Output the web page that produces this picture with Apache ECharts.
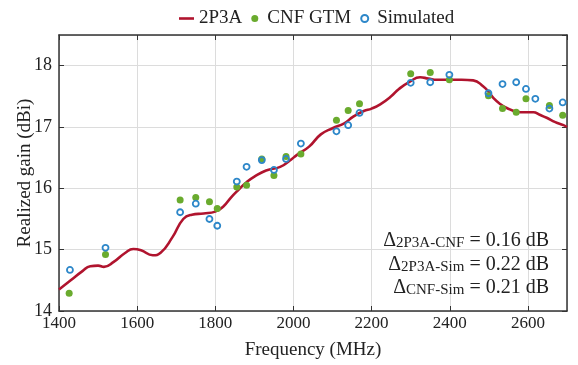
<!DOCTYPE html>
<html>
<head>
<meta charset="utf-8">
<script src="https://cdn.jsdelivr.net/npm/echarts@6/dist/echarts.min.js"></script>
<style>
html,body{margin:0;padding:0;background:#fff;}
#c{width:578px;height:365px;}
</style>
</head>
<body>
<div id="c"></div>
<script>
// ---- data ----
var lineFreq = [1400,1430,1460,1480,1500,1515,1540,1570,1590,1610,1640,1660,1690,1718,1740,1770,1800,1820,1840,1860,1880,1900,1930,1966,1990,2010,2040,2070,2100,2130,2153,2180,2200,2222,2250,2270,2298,2324,2345,2367,2400,2430,2460,2486,2500,2512,2530,2546,2571,2590,2614,2630,2648,2670,2691,2700];
var lineGain = [14.35,14.50,14.65,14.73,14.74,14.72,14.80,14.95,15.01,14.99,14.91,14.95,15.20,15.50,15.57,15.59,15.62,15.70,15.85,15.98,16.10,16.19,16.29,16.35,16.45,16.55,16.68,16.88,16.98,17.06,17.17,17.26,17.30,17.37,17.50,17.62,17.74,17.81,17.79,17.77,17.77,17.77,17.76,17.66,17.57,17.47,17.37,17.31,17.25,17.24,17.24,17.20,17.15,17.08,17.03,17.00];

var cnfFreq = [1426,1519,1710,1750,1785,1805,1855,1880,1919,1950,1981,2019,2110,2140,2169,2300,2350,2399,2499,2535,2570,2595,2655,2689];
var cnfGain = [14.29,14.92,15.81,15.85,15.78,15.67,16.02,16.05,16.48,16.21,16.52,16.56,17.11,17.27,17.38,17.87,17.89,17.77,17.51,17.30,17.24,17.46,17.35,17.19];

var simFreq = [1428,1519,1710,1750,1785,1805,1855,1880,1919,1950,1981,2019,2110,2140,2169,2300,2350,2399,2499,2535,2570,2595,2619,2655,2689];
var simGain = [14.67,15.03,15.61,15.75,15.50,15.39,16.11,16.35,16.46,16.30,16.48,16.73,16.93,17.03,17.23,17.72,17.73,17.85,17.55,17.70,17.73,17.62,17.46,17.30,17.40];

var seriesNames = ['2P3A','CNF GTM','Simulated'];
var xTicks = {min:1400, max:2700, interval:200};
var yTicks = {min:14, max:18.5, interval:1};
var annoLines = [
  {sub:'2P3A-CNF', val:'0.16 dB'},
  {sub:'2P3A-Sim', val:'0.22 dB'},
  {sub:'CNF-Sim', val:'0.21 dB'}
];

function pairs(a,b){var r=[];for(var i=0;i<a.length;i++)r.push([a[i],b[i]]);return r;}

var FONT = '"Liberation Serif","Times New Roman",serif';
var axisCol = '#333';
var chart = echarts.init(document.getElementById('c'), null, {renderer:'canvas'});

var gridL=59, gridT=35, gridR=11, gridB=51;

var graphics = annoLines.map(function(l,i){
  return {
    type:'text', right: 29, top: 231 + i*23.5, z:100,
    style:{
      text:'{d|Δ}{s|'+l.sub+'}{d| = '+l.val+'}',
      font:'19px '+FONT, fill:'#222', align:'right',
      rich:{
        d:{fontFamily:FONT,fontSize:20,lineHeight:24,verticalAlign:'bottom',fill:'#222'},
        s:{fontFamily:FONT,fontSize:15,lineHeight:14,verticalAlign:'bottom',fill:'#222'}
      }
    }
  };
});

function plain(v){return String(v);}

chart.setOption({
  animation:false,
  backgroundColor:'#fff',
  textStyle:{fontFamily:FONT},
  legend:{
    left:174, top:4, itemGap:9, itemWidth:15, itemHeight:7,
    textStyle:{fontFamily:FONT,fontSize:19,color:'#222'},
    data:[
      {name:seriesNames[0], icon:'path://M0,0H15V2.6H0Z', itemStyle:{color:'#B0142E'}},
      {name:seriesNames[1]},
      {name:seriesNames[2]}
    ]
  },
  grid:{left:gridL, top:gridT, right:gridR, bottom:gridB, containLabel:false},
  graphic:graphics,
  xAxis:[{
    type:'value', min:xTicks.min, max:xTicks.max, interval:xTicks.interval,
    name:'Frequency (MHz)', nameLocation:'middle', nameGap:30,
    nameTextStyle:{fontFamily:FONT,fontSize:19,color:'#222'},
    axisLine:{show:true,onZero:false,lineStyle:{color:axisCol,width:1.5}},
    axisTick:{show:true,inside:true,length:5,lineStyle:{color:axisCol}},
    axisLabel:{fontFamily:FONT,fontSize:17,color:'#222',margin:4,showMaxLabel:false,formatter:plain},
    splitLine:{show:true,lineStyle:{color:'#dcdcdc',width:1}}
  },{
    type:'value', position:'top', min:xTicks.min, max:xTicks.max, interval:xTicks.interval,
    axisLine:{show:true,onZero:false,lineStyle:{color:axisCol,width:1.5}},
    axisTick:{show:true,inside:true,length:5,lineStyle:{color:axisCol}},
    axisLabel:{show:false}, splitLine:{show:false}
  }],
  yAxis:[{
    type:'value', min:yTicks.min, max:yTicks.max, interval:yTicks.interval,
    name:'Realized gain (dBi)', nameLocation:'middle', nameGap:24, nameMoveOverlap:false,
    nameTextStyle:{fontFamily:FONT,fontSize:19,color:'#222'},
    axisLine:{show:true,onZero:false,lineStyle:{color:axisCol,width:1.5}},
    axisTick:{show:true,inside:true,length:5,lineStyle:{color:axisCol}},
    axisLabel:{fontFamily:FONT,fontSize:18,color:'#222',margin:7,showMaxLabel:false,formatter:plain},
    splitLine:{show:true,lineStyle:{color:'#dcdcdc',width:1}}
  },{
    type:'value', position:'right', min:yTicks.min, max:yTicks.max, interval:yTicks.interval,
    axisLine:{show:true,onZero:false,lineStyle:{color:axisCol,width:1.5}},
    axisTick:{show:true,inside:true,length:5,lineStyle:{color:axisCol}},
    axisLabel:{show:false}, splitLine:{show:false}
  }],
  series:[{
    name:seriesNames[0], type:'line', smooth:0.5, symbol:'none',
    data:pairs(lineFreq,lineGain),
    lineStyle:{color:'#B0142E',width:2.6}, itemStyle:{color:'#B0142E'}, z:2
  },{
    name:seriesNames[1], type:'scatter', symbol:'circle', symbolSize:7,
    data:pairs(cnfFreq,cnfGain),
    itemStyle:{color:'#6AAB2E',opacity:1}, z:3
  },{
    name:seriesNames[2], type:'scatter', symbol:'circle', symbolSize:6,
    data:pairs(simFreq,simGain),
    itemStyle:{color:'rgba(255,255,255,0)',borderColor:'#2D87C9',borderWidth:1.8,opacity:1}, z:4
  }]
});
</script>
</body>
</html>
